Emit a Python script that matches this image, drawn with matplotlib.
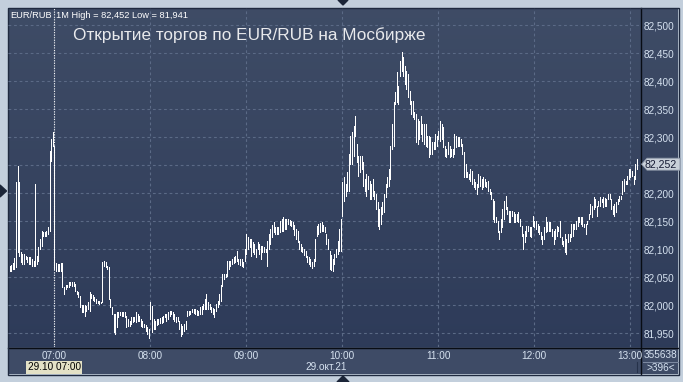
import matplotlib
matplotlib.use('Agg')
import matplotlib.pyplot as plt
import numpy as np
from matplotlib.patches import Rectangle, Polygon
from matplotlib.transforms import blended_transform_factory

# ---------------- data ----------------
pair = 'EUR/RUB'
interval = '1M'
start_minute = 6 * 60 + 32          # first bar 06:32
highs = [
    82.070, 82.072, 82.076, 82.085, 82.220, 82.249, 82.220, 82.095, 82.092, 82.092,
    82.088, 82.087, 82.087, 82.087, 82.083, 82.079, 82.217, 82.088, 82.104, 82.118,
    82.133, 82.131, 82.131, 82.133, 82.140, 82.276, 82.297, 82.309, 82.284, 82.076,
    82.074, 82.074, 82.076, 82.076, 82.033, 82.036, 82.036, 82.042, 82.042, 82.042,
    82.042, 82.038, 82.025, 82.024, 82.017, 82.001, 82.001, 82.001, 81.999, 82.006,
    82.024, 82.020, 82.018, 82.015, 82.011, 82.008, 82.008, 82.006, 82.077, 82.079,
    82.077, 82.070, 82.068, 82.011, 81.997, 81.984, 81.984, 81.988, 81.988, 81.988,
    81.988, 81.988, 81.988, 81.981, 81.976, 81.972, 81.979, 81.979, 81.979, 81.988,
    81.984, 81.981, 81.976, 81.972, 81.967, 81.965, 81.961, 81.958, 82.006, 81.999,
    81.976, 81.972, 81.976, 81.976, 81.977, 81.979, 81.981, 81.984, 81.984, 81.988,
    81.990, 81.990, 81.988, 81.984, 81.979, 81.979, 81.972, 81.967, 81.963, 81.967,
    81.972, 81.990, 81.990, 81.990, 81.993, 81.993, 81.993, 81.992, 81.990, 81.997,
    81.999, 82.002, 82.011, 82.020, 82.006, 82.002, 81.997, 81.995, 81.993, 82.002,
    82.008, 82.020, 82.036, 82.056, 82.056, 82.056, 82.079, 82.079, 82.079, 82.083,
    82.086, 82.088, 82.097, 82.083, 82.083, 82.083, 82.077, 82.101, 82.127, 82.122,
    82.118, 82.118, 82.113, 82.109, 82.101, 82.113, 82.109, 82.106, 82.106, 82.104,
    82.101, 82.115, 82.127, 82.136, 82.144, 82.149, 82.140, 82.140, 82.140, 82.151,
    82.154, 82.158, 82.154, 82.154, 82.154, 82.152, 82.151, 82.149, 82.144, 82.136,
    82.133, 82.115, 82.109, 82.104, 82.101, 82.097, 82.088, 82.086, 82.083, 82.077,
    82.083, 82.118, 82.142, 82.145, 82.147, 82.149, 82.144, 82.140, 82.127, 82.118,
    82.097, 82.090, 82.083, 82.092, 82.101, 82.115, 82.136, 82.154, 82.220, 82.229,
    82.217, 82.238, 82.270, 82.302, 82.310, 82.320, 82.338, 82.288, 82.267, 82.267,
    82.267, 82.256, 82.226, 82.234, 82.231, 82.222, 82.217, 82.226, 82.204, 82.199,
    82.184, 82.172, 82.176, 82.184, 82.199, 82.217, 82.229, 82.243, 82.284, 82.324,
    82.363, 82.381, 82.417, 82.392, 82.436, 82.452, 82.443, 82.427, 82.418, 82.413,
    82.383, 82.365, 82.365, 82.345, 82.342, 82.333, 82.329, 82.338, 82.324, 82.324,
    82.324, 82.302, 82.302, 82.301, 82.292, 82.292, 82.306, 82.302, 82.311, 82.329,
    82.324, 82.318, 82.284, 82.279, 82.292, 82.284, 82.279, 82.279, 82.306, 82.302,
    82.301, 82.301, 82.297, 82.288, 82.274, 82.252, 82.238, 82.234, 82.243, 82.240,
    82.226, 82.220, 82.217, 82.234, 82.231, 82.226, 82.229, 82.226, 82.220, 82.222,
    82.208, 82.202, 82.190, 82.186, 82.158, 82.151, 82.133, 82.154, 82.172, 82.186,
    82.195, 82.176, 82.168, 82.168, 82.168, 82.167, 82.163, 82.163, 82.167, 82.154,
    82.142, 82.127, 82.133, 82.142, 82.142, 82.140, 82.140, 82.159, 82.151, 82.151,
    82.145, 82.142, 82.131, 82.124, 82.140, 82.158, 82.149, 82.149, 82.149, 82.136,
    82.133, 82.136, 82.142, 82.140, 82.151, 82.122, 82.115, 82.127, 82.118, 82.127,
    82.127, 82.145, 82.145, 82.145, 82.151, 82.158, 82.158, 82.158, 82.158, 82.145,
    82.145, 82.151, 82.163, 82.181, 82.177, 82.193, 82.190, 82.177, 82.186, 82.193,
    82.190, 82.193, 82.191, 82.190, 82.199, 82.199, 82.190, 82.177, 82.181, 82.184,
    82.190, 82.195, 82.195, 82.222, 82.226, 82.222, 82.231, 82.243, 82.243, 82.240,
    82.231, 82.252, 82.261,
]
lows = [
    82.061, 82.061, 82.065, 82.065, 82.068, 82.095, 82.088, 82.077, 82.074, 82.074,
    82.083, 82.077, 82.074, 82.074, 82.070, 82.070, 82.070, 82.074, 82.079, 82.101,
    82.106, 82.124, 82.124, 82.124, 82.127, 82.133, 82.258, 82.284, 82.065, 82.061,
    82.061, 82.061, 82.061, 82.033, 82.020, 82.029, 82.033, 82.033, 82.036, 82.034,
    82.034, 82.025, 82.020, 82.015, 81.997, 81.988, 81.988, 81.981, 81.990, 81.993,
    81.990, 82.013, 82.009, 82.008, 82.004, 82.004, 82.002, 82.004, 82.006, 82.070,
    82.068, 82.065, 82.011, 81.997, 81.984, 81.952, 81.949, 81.961, 81.979, 81.983,
    81.981, 81.981, 81.979, 81.961, 81.963, 81.963, 81.967, 81.970, 81.972, 81.970,
    81.972, 81.972, 81.963, 81.961, 81.961, 81.954, 81.949, 81.941, 81.976, 81.952,
    81.958, 81.958, 81.965, 81.967, 81.968, 81.968, 81.970, 81.979, 81.972, 81.976,
    81.981, 81.984, 81.976, 81.972, 81.970, 81.972, 81.958, 81.945, 81.949, 81.954,
    81.958, 81.981, 81.983, 81.984, 81.988, 81.986, 81.984, 81.983, 81.983, 81.984,
    81.984, 81.993, 81.993, 81.993, 81.993, 81.993, 81.988, 81.984, 81.979, 81.990,
    81.997, 82.002, 82.008, 82.034, 82.047, 82.051, 82.052, 82.065, 82.070, 82.074,
    82.076, 82.077, 82.079, 82.074, 82.072, 82.070, 82.068, 82.079, 82.092, 82.101,
    82.104, 82.088, 82.095, 82.092, 82.086, 82.101, 82.092, 82.083, 82.095, 82.095,
    82.095, 82.070, 82.101, 82.109, 82.122, 82.131, 82.127, 82.127, 82.127, 82.131,
    82.133, 82.133, 82.136, 82.136, 82.145, 82.144, 82.142, 82.136, 82.126, 82.118,
    82.113, 82.101, 82.097, 82.095, 82.090, 82.086, 82.077, 82.074, 82.070, 82.067,
    82.070, 82.079, 82.124, 82.127, 82.131, 82.133, 82.133, 82.131, 82.109, 82.101,
    82.065, 82.063, 82.061, 82.074, 82.086, 82.092, 82.097, 82.097, 82.159, 82.186,
    82.195, 82.204, 82.204, 82.252, 82.252, 82.267, 82.302, 82.256, 82.231, 82.238,
    82.243, 82.213, 82.204, 82.195, 82.208, 82.190, 82.190, 82.195, 82.190, 82.172,
    82.142, 82.136, 82.145, 82.163, 82.167, 82.193, 82.211, 82.213, 82.226, 82.279,
    82.284, 82.360, 82.363, 82.360, 82.409, 82.418, 82.409, 82.395, 82.386, 82.372,
    82.360, 82.342, 82.336, 82.333, 82.292, 82.288, 82.297, 82.306, 82.293, 82.288,
    82.284, 82.283, 82.265, 82.270, 82.270, 82.279, 82.279, 82.284, 82.297, 82.293,
    82.297, 82.283, 82.267, 82.265, 82.270, 82.265, 82.267, 82.265, 82.270, 82.283,
    82.284, 82.284, 82.284, 82.270, 82.229, 82.229, 82.229, 82.226, 82.222, 82.217,
    82.211, 82.208, 82.199, 82.211, 82.213, 82.208, 82.211, 82.213, 82.211, 82.204,
    82.199, 82.190, 82.154, 82.149, 82.149, 82.131, 82.118, 82.131, 82.140, 82.154,
    82.172, 82.163, 82.149, 82.149, 82.159, 82.149, 82.149, 82.151, 82.149, 82.142,
    82.124, 82.101, 82.113, 82.124, 82.133, 82.124, 82.122, 82.142, 82.140, 82.136,
    82.131, 82.127, 82.118, 82.109, 82.118, 82.131, 82.133, 82.133, 82.133, 82.124,
    82.109, 82.118, 82.124, 82.133, 82.122, 82.109, 82.106, 82.095, 82.092, 82.113,
    82.115, 82.122, 82.124, 82.136, 82.136, 82.142, 82.149, 82.145, 82.142, 82.140,
    82.127, 82.145, 82.154, 82.163, 82.158, 82.172, 82.176, 82.159, 82.177, 82.177,
    82.184, 82.176, 82.177, 82.177, 82.190, 82.190, 82.172, 82.163, 82.159, 82.167,
    82.181, 82.186, 82.190, 82.199, 82.204, 82.217, 82.217, 82.226, 82.229, 82.231,
    82.217, 82.226, 82.243,
]
last_price = 82.252
y_ticks = [81.95, 82.00, 82.05, 82.10, 82.15, 82.20, 82.25, 82.30, 82.35, 82.40, 82.45, 82.50]
x_tick_minutes = [420, 480, 540, 600, 660, 720, 780]
x_tick_labels = ['07:00', '08:00', '09:00', '10:00', '11:00', '12:00', '13:00']
cursor_minute = 420
cursor_label = '29.10 07:00'
date_label = '29.окт.21'
title = 'Открытие торгов по EUR/RUB на Мосбирже'
volume_label = '355638'
bars_label = '>396<'

# ---------------- styling ----------------
W, H = 683, 382
FONT = ['Liberation Sans', 'DejaVu Sans']
plt.rcParams['font.family'] = FONT
outer_c = '#c3cfdc'
panel_c = '#3e4b66'
grid_c = '#5b6a86'
label_c = '#d6e2f0'

fig = plt.figure(figsize=(W / 100, H / 100), dpi=100)
fig.patch.set_facecolor(outer_c)

# pixel-space background axes
bg = fig.add_axes([0, 0, 1, 1])
bg.set_xlim(0, W)
bg.set_ylim(H, 0)
bg.axis('off')

# gradient for chart + right scale panel
top = np.array([0.245, 0.298, 0.400])
bot = np.array([0.180, 0.232, 0.350])
t = np.linspace(0, 1, 256)[:, None]
grad = (top[None, :] * (1 - t) + bot[None, :] * t)[:, None, :]
bg.imshow(grad, extent=(8, 678, 347, 8), origin='upper', aspect='auto',
          interpolation='bilinear', zorder=0)
bg.add_patch(Rectangle((8, 347), 670, 27, facecolor=panel_c, edgecolor='none', zorder=1))
bg.set_xlim(0, W)
bg.set_ylim(H, 0)
# frame lines
bg.plot([640.5, 640.5], [8, 374], color='#080c14', lw=1.0, zorder=5)
bg.plot([8, 678], [347.5, 347.5], color='#080c14', lw=1.0, zorder=5)
bg.add_patch(Rectangle((7.5, 7.5), 671, 367, facecolor='none', edgecolor='#1f2a3f', lw=1.0, zorder=5))
bg.plot([643, 678], [362, 362], color='#7f8ca3', lw=0.7, zorder=5)
bg.plot([636.5, 636.5], [362, 372], color='#26324a', lw=0.8, zorder=5)
# small navigation triangles
tri_c = '#1b2538'
bg.add_patch(Polygon([(0, 185), (6.5, 191), (0, 197)], closed=True, color=tri_c, zorder=6))
bg.add_patch(Polygon([(338, 0), (348, 0), (343, 5)], closed=True, color=tri_c, zorder=6))
bg.add_patch(Polygon([(337, 382), (349, 382), (343, 376)], closed=True, color=tri_c, zorder=6))

# main chart axes
ax = fig.add_axes([8 / W, (H - 347) / H, 632 / W, 339 / H])
ax.patch.set_alpha(0)
n = len(highs)
times = start_minute + np.arange(n)
ax.set_xlim(start_minute - 0.94, start_minute + 394.06)
ax.set_ylim(81.9255, 82.5309)
for v in y_ticks:
    ax.axhline(v, color=grid_c, lw=0.8, ls=(0, (2.5, 2.5)), zorder=1)
for m in x_tick_minutes:
    ax.axvline(m, color=grid_c, lw=0.8, ls=(0, (2.5, 2.5)), zorder=1)
ax.axvline(cursor_minute, color='#f4f4f4', lw=0.8, ls=(0, (1, 1.3)), zorder=3)
ax.vlines(times, lows, highs, colors='white', lw=0.72, zorder=4,
          antialiased=False)
for s in ax.spines.values():
    s.set_visible(False)
ax.yaxis.tick_right()
ax.set_yticks(y_ticks)
# the last-price marker covers the label nearest to it
ylabels = []
for v in y_ticks:
    lab = f'{v:.3f}'.replace('.', ',')
    ylabels.append('' if abs(v - last_price) < 0.02 else lab)
ax.set_yticklabels(ylabels)
ax.set_xticks(x_tick_minutes)
ax.set_xticklabels(x_tick_labels)
ax.tick_params(axis='y', length=0, pad=2.5, labelsize=7.2, labelcolor=label_c)
ax.tick_params(axis='x', length=0, pad=2.8, labelsize=7.2, labelcolor=label_c)

# header & title
hi_txt = f'{max(highs):.3f}'.replace('.', ',')
lo_txt = f'{min(lows):.3f}'.replace('.', ',')
bg.text(10, 15, pair, fontsize=6.7, color='white', va='center', ha='left', zorder=7)
bg.text(56, 15, f'{interval} High = {hi_txt} Low = {lo_txt}', fontsize=6.7,
        color='white', va='center', ha='left', zorder=7)
bg.text(73, 35, title, fontsize=12.4, color='#e8e9ec', va='center', ha='left', zorder=7)

# bottom labels
bx = blended_transform_factory(ax.transData, bg.transData)
bg.text(cursor_minute, 367.5, cursor_label, transform=bx, fontsize=7.2, color='black',
        ha='center', va='center', zorder=7,
        bbox=dict(boxstyle='square,pad=0.15', fc='#e3e1c6', ec='none'))
bg.text(326, 367, date_label, fontsize=7.2, color=label_c, ha='center', va='center', zorder=7)
bg.text(660, 355, volume_label, fontsize=7.2, color=label_c, ha='center', va='center', zorder=7)
bg.text(660.5, 368, bars_label, fontsize=7.2, color=label_c, ha='center', va='center', zorder=7)

# last-price marker
disp = ax.transData.transform((start_minute, last_price))
yc = bg.transData.inverted().transform(disp)[1]
bg.add_patch(Polygon([(641.5, yc), (647, yc - 6), (680, yc - 6), (680, yc + 6),
                      (647, yc + 6)], closed=True, fc='#c9d0d9', ec='#8993a5',
                     lw=0.6, zorder=8))
bg.text(661, yc, f'{last_price:.3f}'.replace('.', ','), fontsize=7.6, color='#151a33',
        ha='center', va='center', zorder=9)

fig.savefig('out.png', dpi=100, facecolor=fig.get_facecolor())
